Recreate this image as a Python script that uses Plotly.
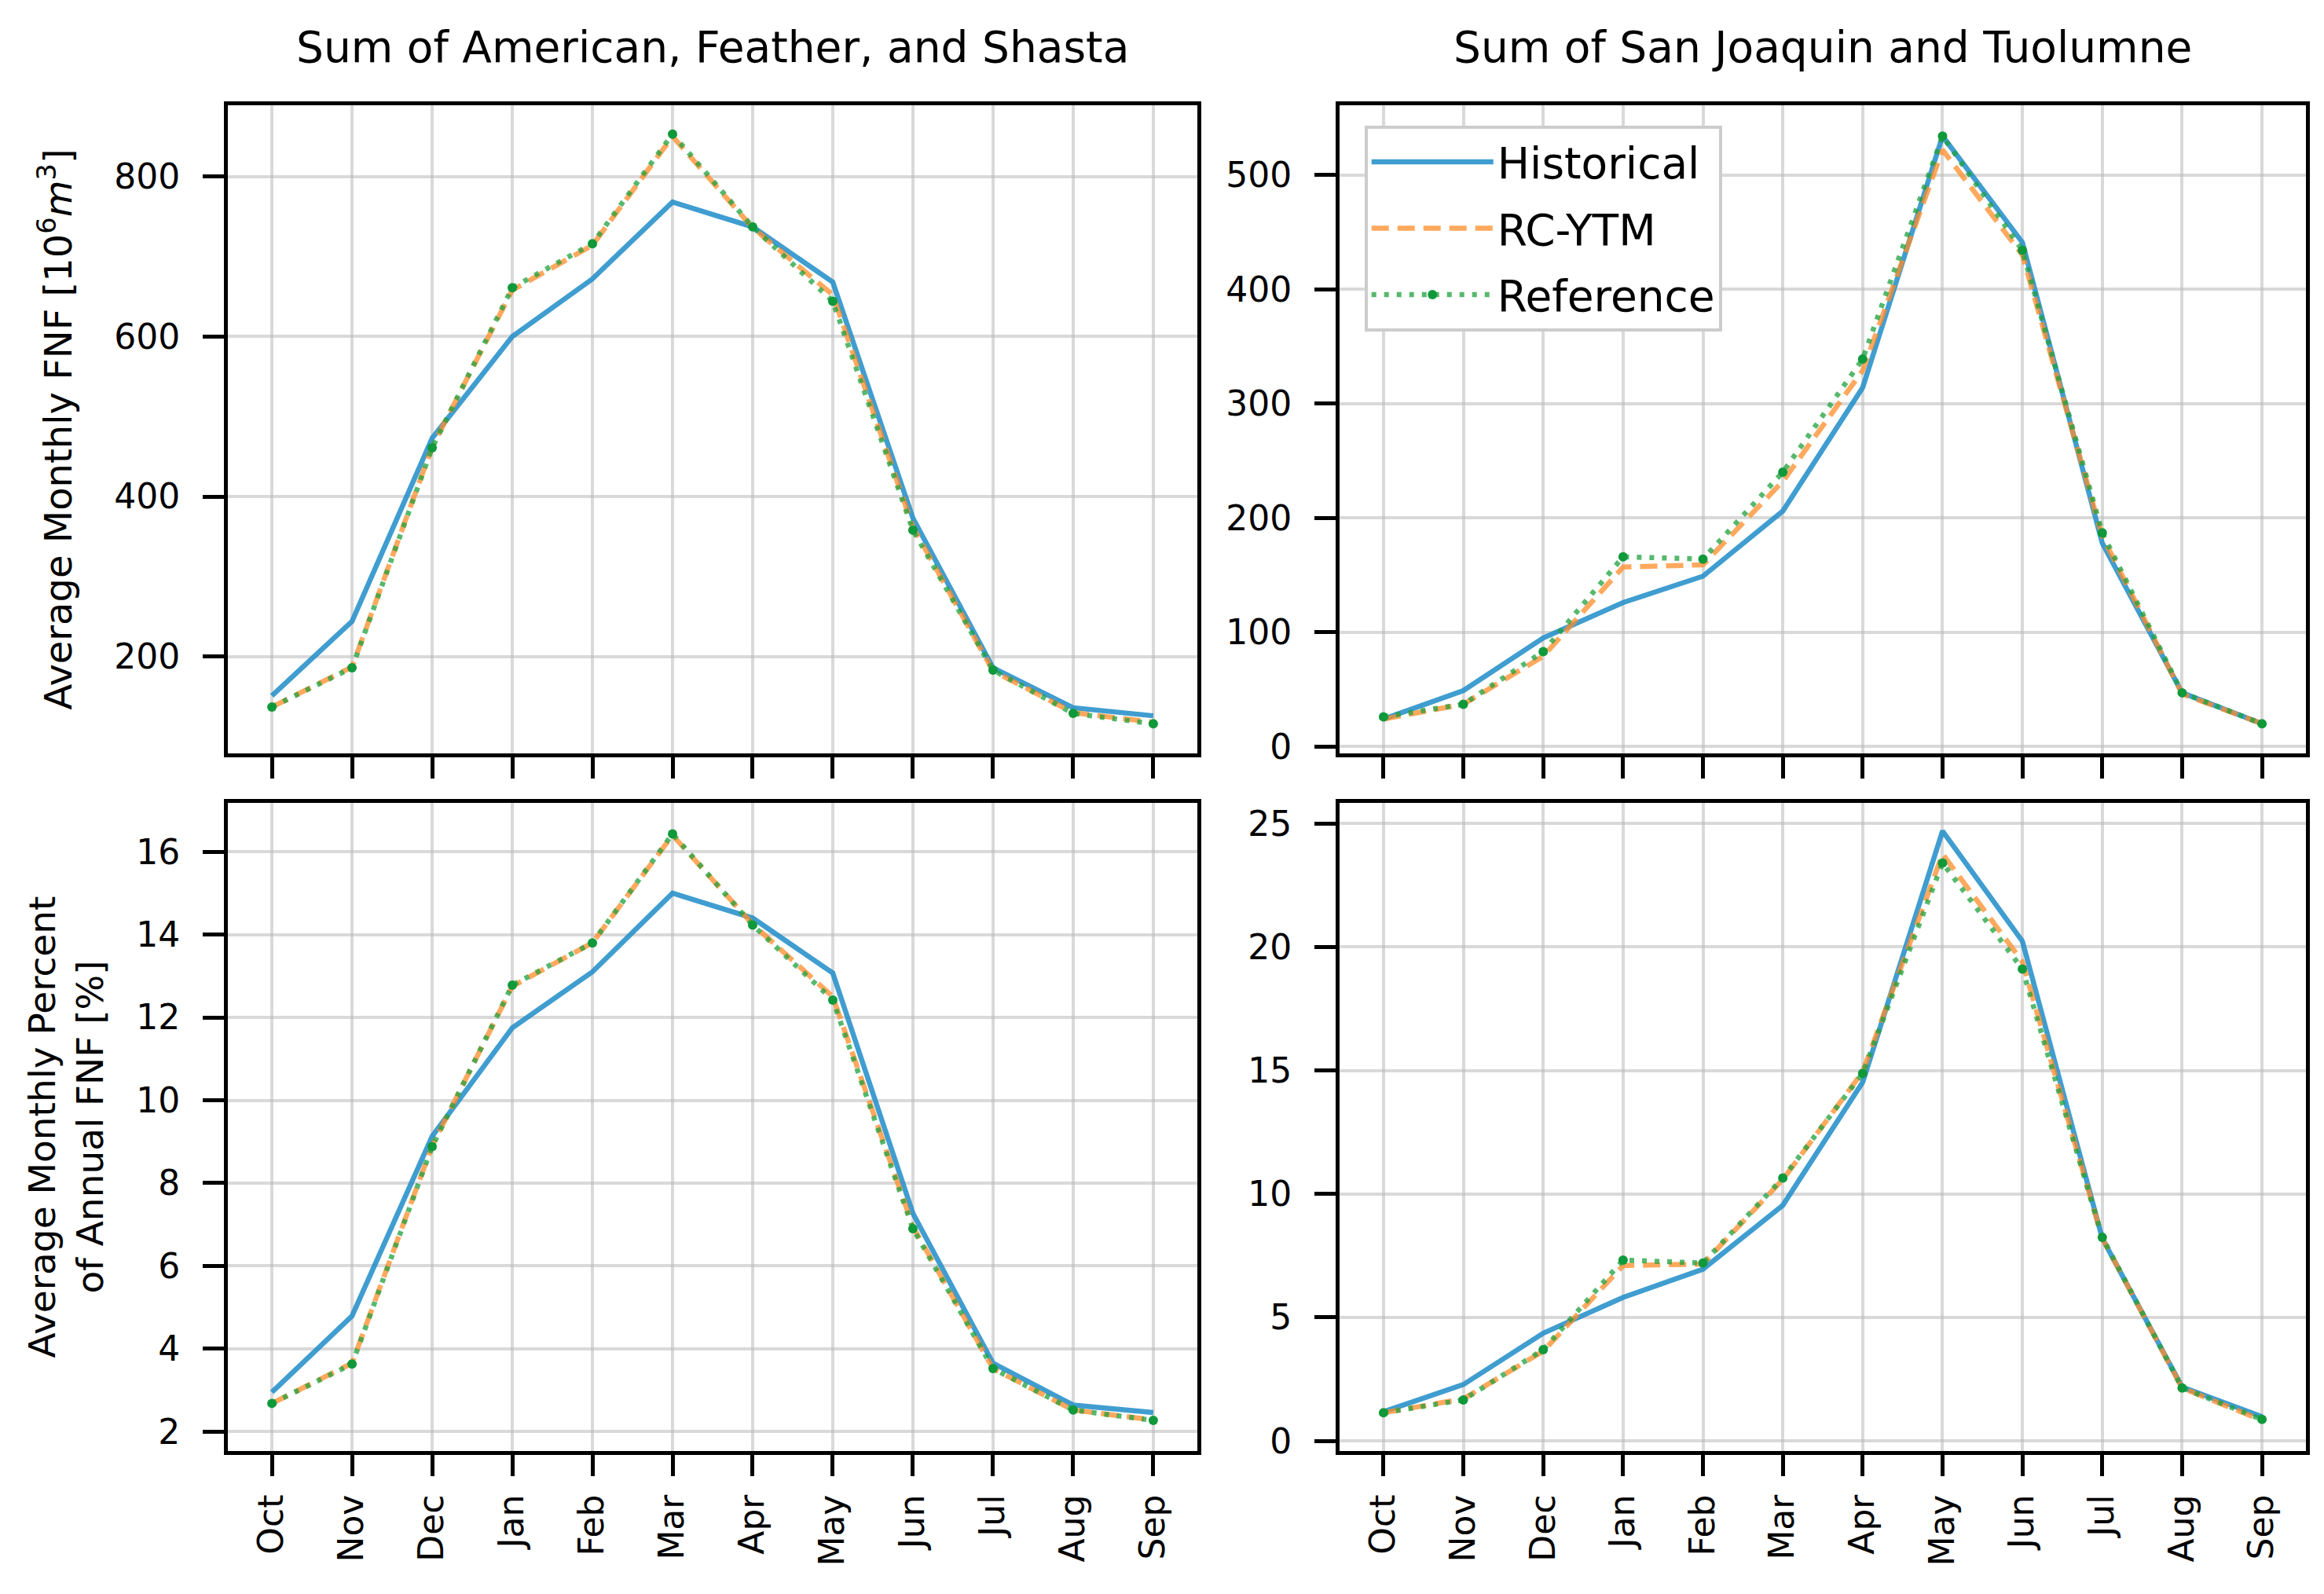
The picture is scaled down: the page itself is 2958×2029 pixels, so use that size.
import plotly.graph_objects as go

months = ["Oct", "Nov", "Dec", "Jan", "Feb", "Mar", "Apr", "May", "Jun", "Jul", "Aug", "Sep"]

# Sum of American, Feather, and Shasta - Average Monthly FNF [10^6 m^3]
north_fnf_hist = [151, 244, 473, 600, 672, 768, 737, 668, 373, 186, 136, 126]
north_fnf_rc = [137, 187, 462, 658, 714, 850, 736, 652, 362, 182, 130, 118]
north_fnf_ref = [137, 186, 461, 661, 716, 853, 737, 644, 358, 183, 129, 116]

# Sum of San Joaquin and Tuolumne - Average Monthly FNF [10^6 m^3]
south_fnf_hist = [24, 49, 95, 126, 149, 206, 314, 534, 441, 178, 47, 20]
south_fnf_rc = [24, 37, 79, 157, 159, 232, 329, 522, 430, 184, 46, 20]
south_fnf_ref = [26, 37, 83, 166, 164, 240, 339, 534, 434, 187, 47, 20]

# Average Monthly Percent of Annual FNF [%]
north_pct_hist = [2.95, 4.79, 9.13, 11.75, 13.1, 15.0, 14.4, 13.07, 7.27, 3.65, 2.64, 2.46]
north_pct_rc = [2.68, 3.65, 8.9, 12.75, 13.8, 16.4, 14.25, 12.5, 6.95, 3.52, 2.52, 2.28]
north_pct_ref = [2.68, 3.63, 8.88, 12.78, 13.8, 16.43, 14.23, 12.42, 6.9, 3.52, 2.52, 2.27]

south_pct_hist = [1.18, 2.28, 4.36, 5.81, 6.95, 9.54, 14.52, 24.69, 20.23, 8.2, 2.18, 0.98]
south_pct_rc = [1.14, 1.7, 3.63, 7.1, 7.16, 10.58, 14.94, 23.76, 19.4, 8.2, 2.14, 0.83]
south_pct_ref = [1.14, 1.66, 3.69, 7.32, 7.2, 10.64, 14.88, 23.4, 19.1, 8.24, 2.14, 0.87]

titles = ["Sum of American, Feather, and Shasta", "Sum of San Joaquin and Tuolumne"]
ylabel_top = "Average Monthly FNF [10<sup>6</sup><i>m</i><sup>3</sup>]"
ylabel_bottom = "Average Monthly Percent<br>of Annual FNF [%]"

BLUE = "rgba(31,140,200,0.85)"
ORANGE = "rgba(255,140,40,0.75)"
GREEN = "rgba(30,160,60,0.75)"
GREEN_M = "#10993a"
FONT = "DejaVu Sans"

W, H = 2958, 2029
L, R, T, B = 282, 31, 126, 190
pw = W - L - R
ph = H - T - B
x1 = (1516 - L) / pw
x2 = (1697 - L) / pw
ytop0 = (H - B - 951) / ph
ybot1 = (H - B - 1014) / ph

fig = go.Figure()
xs = list(range(len(months)))

panels = [
    ("x", "y", north_fnf_hist, north_fnf_rc, north_fnf_ref),
    ("x2", "y2", south_fnf_hist, south_fnf_rc, south_fnf_ref),
    ("x3", "y3", north_pct_hist, north_pct_rc, north_pct_ref),
    ("x4", "y4", south_pct_hist, south_pct_rc, south_pct_ref),
]
for i, (xa, ya, h, rc, rf) in enumerate(panels):
    legend_on = (i == 1)
    fig.add_trace(go.Scatter(x=xs, y=h, mode="lines", name="Historical", legendgroup="h",
                             line=dict(color=BLUE, width=6.5), xaxis=xa, yaxis=ya,
                             showlegend=legend_on))
    fig.add_trace(go.Scatter(x=xs, y=rc, mode="lines", name="RC-YTM", legendgroup="rc",
                             line=dict(color=ORANGE, width=6.5, dash="22px,11px"), xaxis=xa, yaxis=ya,
                             showlegend=legend_on))
    fig.add_trace(go.Scatter(x=xs, y=rf, mode="lines+markers", name="Reference", legendgroup="ref",
                             line=dict(color=GREEN, width=6.5, dash="6px,10px"),
                             marker=dict(color=GREEN_M, size=12),
                             xaxis=xa, yaxis=ya, showlegend=legend_on))

GRID = "rgba(185,185,185,0.55)"
common_x = dict(range=[-0.55, 11.55], tickmode="array", tickvals=xs, ticktext=months,
                tickangle=-90, showline=True, linecolor="black", linewidth=5, mirror=True,
                ticks="outside", ticklen=27, tickwidth=4.5, tickcolor="black",
                showgrid=True, gridcolor=GRID, gridwidth=3.5, ticklabelstandoff=6,
                zeroline=False, tickfont=dict(family=FONT, size=44, color="black"))
common_y = dict(showline=True, linecolor="black", linewidth=5, mirror=True,
                ticks="outside", ticklen=27, tickwidth=4.5, tickcolor="black",
                showgrid=True, gridcolor=GRID, gridwidth=3.5, ticklabelstandoff=20,
                zeroline=False, tickfont=dict(family=FONT, size=44, color="black"))

fig.update_layout(
    width=W, height=H,
    margin=dict(l=L, r=R, t=T, b=B),
    paper_bgcolor="white", plot_bgcolor="white",
    font=dict(family=FONT, color="black"),
    xaxis=dict(domain=[0, x1], anchor="y", showticklabels=False, **common_x),
    xaxis2=dict(domain=[x2, 1], anchor="y2", showticklabels=False, **common_x),
    xaxis3=dict(domain=[0, x1], anchor="y3", **common_x),
    xaxis4=dict(domain=[x2, 1], anchor="y4", **common_x),
    yaxis=dict(domain=[ytop0, 1], anchor="x", range=[79, 889], dtick=200, tick0=0,
               title=dict(text=ylabel_top, font=dict(family=FONT, size=48), standoff=40), **common_y),
    yaxis2=dict(domain=[ytop0, 1], anchor="x2", range=[-6, 561], dtick=100, tick0=0, **common_y),
    yaxis3=dict(domain=[0, ybot1], anchor="x3", range=[1.53, 17.18], dtick=2, tick0=0,
                title=dict(text=ylabel_bottom, font=dict(family=FONT, size=47), standoff=28), **common_y),
    yaxis4=dict(domain=[0, ybot1], anchor="x4", range=[-0.41, 25.83], dtick=5, tick0=0, **common_y),
    legend=dict(x=x2 + 0.012, y=0.985, xref="paper", yref="paper", xanchor="left", yanchor="top",
                bgcolor="white", bordercolor="#cccccc", borderwidth=4,
                font=dict(family=FONT, size=55, color="black"), itemwidth=155,
                tracegroupgap=10),
    annotations=[
        dict(text=titles[0], x=x1 / 2, y=1, xref="paper", yref="paper", xanchor="center",
             yanchor="bottom", yshift=40, showarrow=False, font=dict(family=FONT, size=55, color="black")),
        dict(text=titles[1], x=(x2 + 1) / 2, y=1, xref="paper", yref="paper", xanchor="center",
             yanchor="bottom", yshift=40, showarrow=False, font=dict(family=FONT, size=55, color="black")),
    ],
)

fig.write_html("out.html")
